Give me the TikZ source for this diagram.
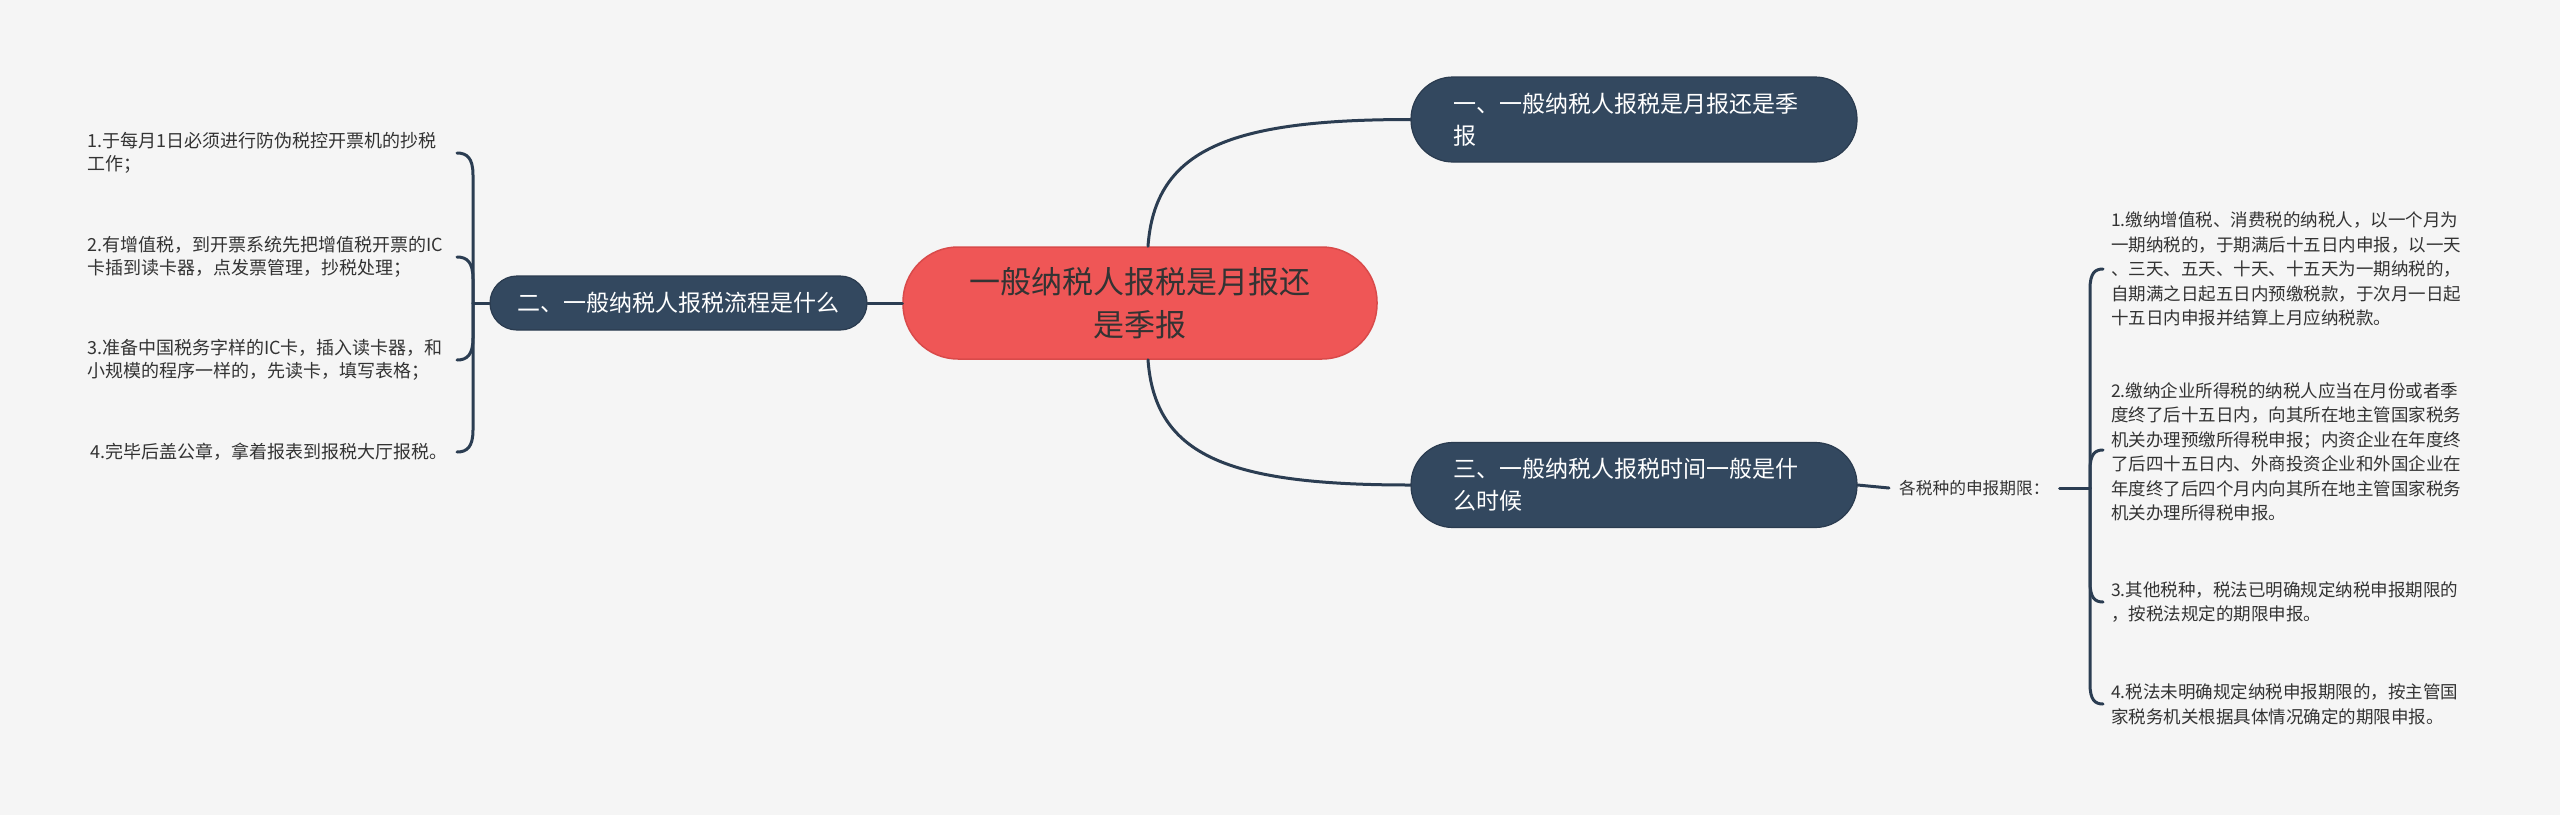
\documentclass[tikz,border=0pt]{standalone}
\usepackage{fontspec}
\setmainfont{Noto Sans CJK SC}
\usetikzlibrary{calc}
\definecolor{bgc}{HTML}{F5F5F5}
\definecolor{redfill}{HTML}{EF5656}
\definecolor{redborder}{HTML}{D94A4A}
\definecolor{topicfill}{HTML}{33485F}
\definecolor{topicborder}{HTML}{2A3B4F}
\definecolor{linec}{HTML}{2B3D52}
\definecolor{txt}{HTML}{333333}
\tikzset{
  mainnode/.style={draw=redborder, line width=1.5pt, fill=redfill, rounded corners=55pt,
    minimum width=474pt, minimum height=112pt, text=txt, align=center, inner sep=0pt,
    font=\fontsize{31}{43}\selectfont},
  topicbig/.style={draw=topicborder, line width=1.2pt, fill=topicfill, rounded corners=42pt,
    minimum width=446pt, minimum height=85pt, text=white, align=left, inner sep=0pt,
    text width=362pt, font=\fontsize{23}{32}\selectfont},
  topicsmall/.style={draw=topicborder, line width=1.2pt, fill=topicfill, rounded corners=27pt,
    minimum width=377pt, minimum height=54pt, text=white, align=center, inner sep=0pt,
    font=\fontsize{23}{30}\selectfont},
  leafl/.style={anchor=west, text=txt, align=left, inner sep=0pt, font=\fontsize{18}{23.5}\selectfont},
  leafr/.style={anchor=west, text=txt, align=left, inner sep=0pt, font=\fontsize{17.5}{24.5}\selectfont},
  lab/.style={text=txt, inner xsep=10pt, inner ysep=4pt, font=\fontsize{16.7}{20}\selectfont},
  conn/.style={draw=linec, line width=3pt, line cap=round},
}
\begin{document}
\begin{tikzpicture}[x=1pt,y=-1pt]
\fill[bgc] (0,0) rectangle (2560,815);
\useasboundingbox (0,0) rectangle (2560,815);

% nodes
\node[mainnode] (root) at (1140,303) {一般纳税人报税是月报还\\是季报};
\node[topicbig] (t1) at (1634,119.5) {一、一般纳税人报税是月报还是季\\报};
\node[topicbig] (t3) at (1634,485) {三、一般纳税人报税时间一般是什\\么时候};
\node[topicsmall] (t2) at (678.5,303) {二、一般纳税人报税流程是什么};

% left leaves
\node[leafl] (l1) at (87,153) {1.于每月1日必须进行防伪税控开票机的抄税\\工作；};
\node[leafl] (l2) at (87,257) {2.有增值税，到开票系统先把增值税开票的IC\\卡插到读卡器，点发票管理，抄税处理；};
\node[leafl] (l3) at (87,360) {3.准备中国税务字样的IC卡，插入读卡器，和\\小规模的程序一样的，先读卡，填写表格；};
\node[leafl] (l4) at (90,452) {4.完毕后盖公章，拿着报表到报税大厅报税。};

% label
\node[lab, anchor=west] (lb) at (1889,488) {各税种的申报期限：};

% right leaves
\node[leafr] (r1) at (2111,269) {1.缴纳增值税、消费税的纳税人，以一个月为\\一期纳税的，于期满后十五日内申报，以一天\\、三天、五天、十天、十五天为一期纳税的，\\自期满之日起五日内预缴税款，于次月一日起\\十五日内申报并结算上月应纳税款。};
\node[leafr] (r2) at (2111,452) {2.缴纳企业所得税的纳税人应当在月份或者季\\度终了后十五日内，向其所在地主管国家税务\\机关办理预缴所得税申报；内资企业在年度终\\了后四十五日内、外商投资企业和外国企业在\\年度终了后四个月内向其所在地主管国家税务\\机关办理所得税申报。};
\node[leafr] (r3) at (2111,602) {3.其他税种，税法已明确规定纳税申报期限的\\，按税法规定的期限申报。};
\node[leafr] (r4) at (2111,704.5) {4.税法未明确规定纳税申报期限的，按主管国\\家税务机关根据具体情况确定的期限申报。};

% junction coordinates
\coordinate (LJ) at (473,303);
\coordinate (L1e) at (457,153);
\coordinate (L2e) at (457,257);
\coordinate (L3e) at (457,360);
\coordinate (L4e) at (457,452);
\coordinate (RJ) at (2090,488);
\coordinate (R1e) at (2103,269);
\coordinate (R2e) at (2103,450);
\coordinate (R3e) at (2103,602);
\coordinate (R4e) at (2103,704);
\coordinate (rtop) at ([xshift=8pt]root.north);
\coordinate (rbot) at ([xshift=8pt]root.south);

% root connectors
\draw[conn] (rtop) .. controls ($(rtop)+(7,-97)$) and ($(t1.west)+(-181,0)$) .. (t1.west);
\draw[conn] (rbot) .. controls ($(rbot)+(7,97)$) and ($(t3.west)+(-181,0)$) .. (t3.west);
\draw[conn] (root.west) -- (t2.east);

% left brace
\draw[conn] (t2.west) -- (LJ);
\draw[conn] (LJ) -- ($(L1e)+(16,22)$) .. controls ($(L1e)+(16,5)$) and ($(L1e)+(10,0)$) .. (L1e);
\draw[conn] (LJ) -- ($(L2e)+(16,22)$) .. controls ($(L2e)+(16,5)$) and ($(L2e)+(10,0)$) .. (L2e);
\draw[conn] (LJ) -- ($(L3e)+(16,-22)$) .. controls ($(L3e)+(16,-5)$) and ($(L3e)+(10,0)$) .. (L3e);
\draw[conn] (LJ) -- ($(L4e)+(16,-22)$) .. controls ($(L4e)+(16,-5)$) and ($(L4e)+(10,0)$) .. (L4e);

% right side
\draw[conn] (t3.east) -- (lb.west);
\draw[conn] (lb.east) -- (RJ);
\draw[conn] (RJ) -- ($(R1e)+(-13,20)$) .. controls ($(R1e)+(-13,4)$) and ($(R1e)+(-8,0)$) .. (R1e);
\draw[conn] (RJ) -- ($(R2e)+(-13,20)$) .. controls ($(R2e)+(-13,4)$) and ($(R2e)+(-8,0)$) .. (R2e);
\draw[conn] (RJ) -- ($(R3e)+(-13,-20)$) .. controls ($(R3e)+(-13,-4)$) and ($(R3e)+(-8,0)$) .. (R3e);
\draw[conn] (RJ) -- ($(R4e)+(-13,-20)$) .. controls ($(R4e)+(-13,-4)$) and ($(R4e)+(-8,0)$) .. (R4e);
\end{tikzpicture}
\end{document}
